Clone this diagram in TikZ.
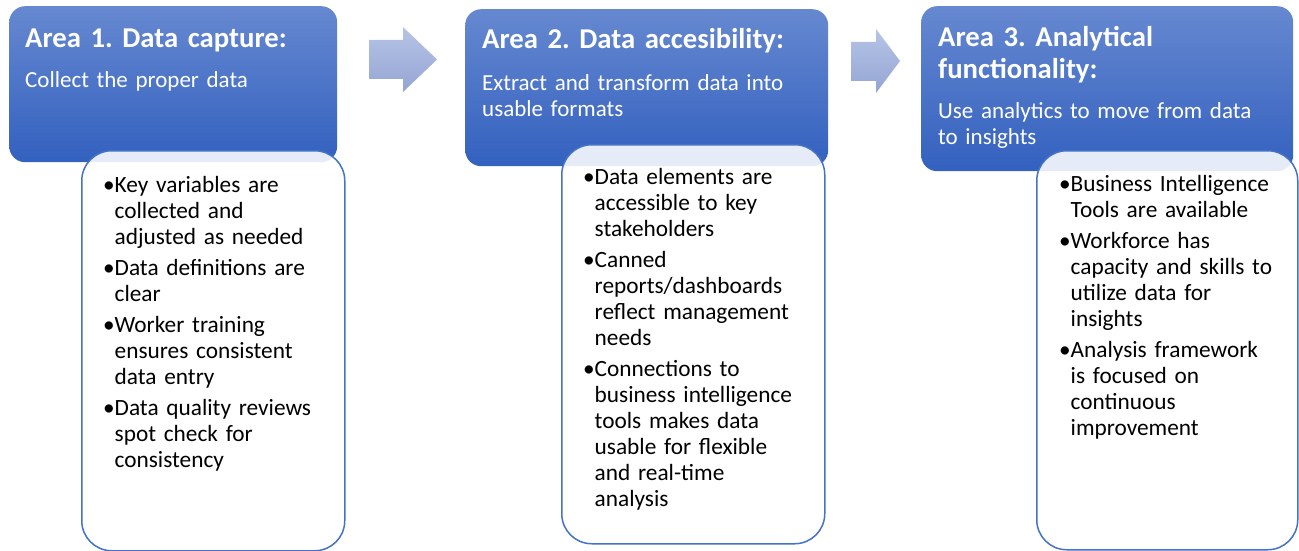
\documentclass[tikz,border=0pt]{standalone}
\usepackage{fontspec}
\setmainfont{Carlito}
\frenchspacing

\definecolor{hdtop}{RGB}{102,136,208}
\definecolor{hdbot}{RGB}{51,97,191}
\definecolor{arrtop}{RGB}{182,196,229}
\definecolor{arrbot}{RGB}{148,165,212}
\definecolor{boxline}{RGB}{68,114,196}

\newcommand{\titlefont}{\fontsize{28.7}{32}\selectfont\bfseries}
\newcommand{\subfont}{\fontsize{23}{26}\selectfont}
\newcommand{\bodyfont}{\fontsize{23.3}{26}\selectfont\setlength{\parskip}{5pt}}
% one bullet point with a hanging indent; lines are broken by hand with \newline
\newcommand{\bitem}[1]{\par\hangindent=11.5pt\hangafter=1\noindent\makebox[11.5pt][l]{\textbullet}\strut#1}

\tikzset{
  header/.style={anchor=north west, inner sep=0pt, rounded corners=16pt,
    top color=hdtop, bottom color=hdbot},
  listbox/.style={anchor=north west, inner sep=0pt, rounded corners=30pt,
    draw=boxline, line width=1.5pt, fill=white, fill opacity=0.88},
  arrowshape/.style={top color=arrtop, bottom color=arrbot},
  title/.style={anchor=north west, inner sep=0pt, text width=360pt,
    text=white, font=\titlefont},
  subtitle/.style={anchor=north west, inner sep=0pt, text width=360pt,
    text=white, font=\subfont},
  body/.style={anchor=north west, inner sep=0pt, text width=300pt,
    text=black, font=\bodyfont},
}

\begin{document}
\begin{tikzpicture}[x=1pt,y=-1pt]
\useasboundingbox (0,0) rectangle (1299,551);

% blue headers
\node[header, minimum width=328pt, minimum height=156pt] (h1) at (9,6) {};
\node[header, minimum width=363pt, minimum height=157pt] (h2) at (465,9) {};
\node[header, minimum width=372pt, minimum height=165pt] (h3) at (921,6) {};

% block arrows between the headers
\shade[arrowshape] (369,40) -- (403,40) -- (403,27) -- (437,59.5) -- (403,92)
  -- (403,79) -- (369,79) -- cycle;
\shade[arrowshape] (851,42) -- (876,42) -- (876,29) -- (900,61) -- (876,93)
  -- (876,81) -- (851,81) -- cycle;

% white list boxes, partly over the headers
\node[listbox, minimum width=263pt, minimum height=400pt] (l1) at (81,150) {};
\node[listbox, minimum width=263pt, minimum height=399pt] (l2) at (561,144) {};
\node[listbox, minimum width=261pt, minimum height=399pt] (l3) at (1036,150) {};

% header texts
\node[title] (t1) at (25,24.6) {\strut Area 1. Data capture:};
\node[subtitle] (s1) at (25,68.8) {\strut Collect the proper data};

\node[title] (t2) at (482,25.6) {\strut Area 2. Data accesibility:};
\node[subtitle] (s2) at (482,71.8) {\strut Extract and transform data into\newline usable formats};

\node[title] (t3) at (938,23.6) {\strut Area 3. Analytical\newline functionality:};
\node[subtitle] (s3) at (938,99.8) {\strut Use analytics to move from data\newline to insights};

% bullet lists
\node[body] (b1) at (103,161.5) {%
  \bitem{Key variables are\newline collected and\newline adjusted as needed}
  \bitem{Data definitions are\newline clear}
  \bitem{Worker training\newline ensures consistent\newline data entry}
  \bitem{Data quality reviews\newline spot check for\newline consistency}\par};

\node[body] (b2) at (583,153.5) {%
  \bitem{Data elements are\newline accessible to key\newline stakeholders}
  \bitem{Canned\newline reports/dashboards\newline reflect management\newline needs}
  \bitem{Connections to\newline business intelligence\newline tools makes data\newline usable for flexible\newline and real-time\newline analysis}\par};

\node[body] (b3) at (1059,160.5) {%
  \bitem{Business Intelligence\newline Tools are available}
  \bitem{Workforce has\newline capacity and skills to\newline utilize data for\newline insights}
  \bitem{Analysis framework\newline is focused on\newline continuous\newline improvement}\par};
\end{tikzpicture}
\end{document}
